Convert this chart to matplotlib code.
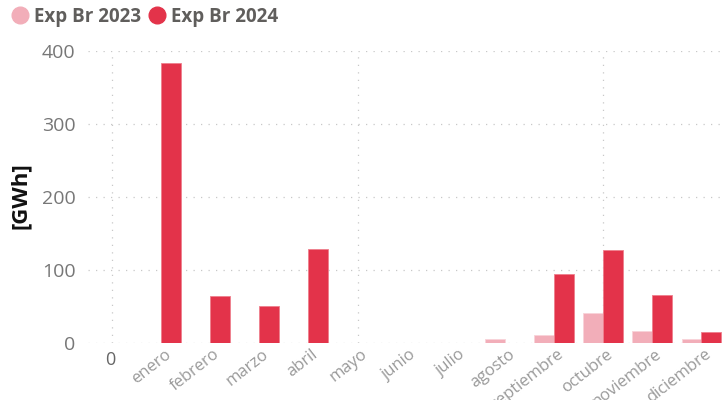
import matplotlib
matplotlib.use("Agg")
import matplotlib.pyplot as plt
from matplotlib.lines import Line2D
from matplotlib.transforms import ScaledTranslation

categories = ["0", "enero", "febrero", "marzo", "abril", "mayo", "junio", "julio",
              "agosto", "septiembre", "octubre", "noviembre", "diciembre"]
exp_2023 = [0, 0, 0, 0, 0, 0, 0, 0, 5, 10.5, 41, 16, 5]
exp_2024 = [0, 383.5, 64.5, 50.5, 128, 0, 0, 0, 0, 94.5, 127, 65, 14]
series_names = ["Exp Br 2023", "Exp Br 2024"]
y_ticks = [0, 100, 200, 300, 400]

c23 = "#F2AEB9"
c24 = "#E3334A"
plt.rcParams['font.family'] = ['Open Sans', 'DejaVu Sans']

fig = plt.figure(figsize=(7.24, 4.0), dpi=100)
ax = fig.add_axes([0.1215, 0.1433, 0.997 - 0.1215, 0.8718 - 0.1433])

x = list(range(len(categories)))
w = 0.40
ax.bar([i - w / 2 for i in x], exp_2023, width=w, color=c23, edgecolor="#F8D3D9", linewidth=0.6, zorder=3)
ax.bar([i + w / 2 for i in x], exp_2024, width=w, color=c24, edgecolor="#EE7F8D", linewidth=0.6, zorder=3)

ax.set_xlim(-0.49, 12.42)
ax.set_ylim(0, 400)
for s in ax.spines.values():
    s.set_visible(False)
ax.tick_params(length=0)
ax.set_yticks(y_ticks)
ax.set_yticklabels([str(v) for v in y_ticks], fontsize=14, color="#777777")
ax.tick_params(axis='y', pad=9)

grid_kw = dict(color="#C8C8C8", linewidth=0.9, linestyle=(0, (1, 5)), zorder=1)
for v in y_ticks:
    ax.axhline(v, **grid_kw)
for v in [0, 5, 10]:
    ax.axvline(v, **grid_kw)

ax.set_xticks(x)
ax.set_xticklabels(categories)
ax.tick_params(axis='x', pad=4)
shift = ScaledTranslation(3 / 100, 2 / 100, fig.dpi_scale_trans)
for i, lab in enumerate(ax.get_xticklabels()):
    if i == 0:
        lab.set_rotation(0)
        lab.set_fontsize(13)
        lab.set_color("#666666")
        lab.set_ha("center")
        lab.set_transform(lab.get_transform() + ScaledTranslation(-2 / 100, -3 / 100, fig.dpi_scale_trans))
    else:
        lab.set_rotation(38)
        lab.set_rotation_mode("anchor")
        lab.set_ha("right")
        lab.set_va("top")
        lab.set_fontsize(12)
        lab.set_color("#9A9A9A")
        lab.set_transform(lab.get_transform() + shift)

fig.text(0.028, 0.512, "[GWh]", rotation=90, fontsize=16, fontweight="bold",
         color="#111111", ha="center", va="center")

handles = [Line2D([], [], marker="o", linestyle="none", markersize=12, color=c23),
           Line2D([], [], marker="o", linestyle="none", markersize=12, color=c24)]
leg = fig.legend(handles, series_names, loc="upper left", bbox_to_anchor=(-0.006, 1.025),
                 ncol=2, frameon=False, handlelength=0.8, handletextpad=0.35,
                 columnspacing=0.45, prop={"weight": "bold", "size": 13.5})
for t in leg.get_texts():
    t.set_color("#605E5C")

fig.savefig("out.png", dpi=100)
